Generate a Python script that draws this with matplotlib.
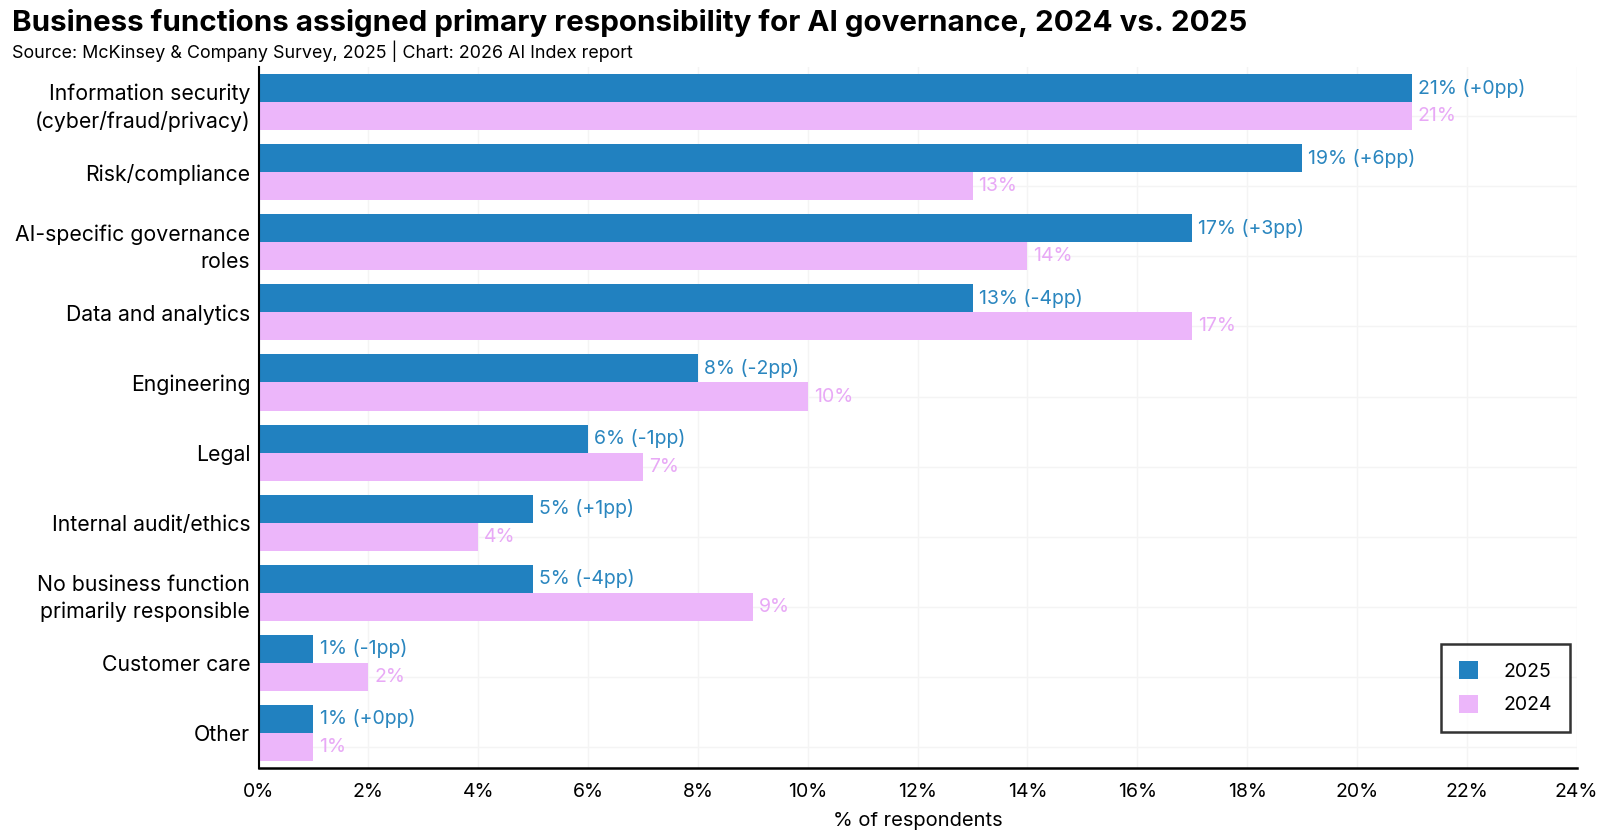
import numpy as np
import matplotlib.pyplot as plt

# data
categories = [
    "Information security\n(cyber/fraud/privacy)",
    "Risk/compliance",
    "AI-specific governance\nroles",
    "Data and analytics",
    "Engineering",
    "Legal",
    "Internal audit/ethics",
    "No business function\nprimarily responsible",
    "Customer care",
    "Other",
]
share_2025 = [21, 19, 17, 13, 8, 6, 5, 5, 1, 1]
share_2024 = [21, 13, 14, 17, 10, 7, 4, 9, 2, 1]

blue = "#2181c0"
pink = "#ecb6fa"
blue_txt = "#2a86bf"
pink_txt = "#e8a9f6"

plt.rcParams["font.family"] = ["Inter", "DejaVu Sans"]

fig = plt.figure(figsize=(16, 8.38), dpi=100)
ax = fig.add_axes([0.1616, 0.0835, 0.8238, 0.8365])

y = np.arange(len(categories))
h = 0.4
ax.barh(y - h / 2, share_2025, height=h, color=blue, label="2025", zorder=2)
ax.barh(y + h / 2, share_2024, height=h, color=pink, label="2024", zorder=2)

# value labels: 2025 share with change vs 2024, then 2024 share
for i, (a, b) in enumerate(zip(share_2025, share_2024)):
    d = a - b
    sign = "+" if d >= 0 else "-"
    ax.text(a + 0.11, i - h / 2, f"{a}% ({sign}{abs(d)}pp)", va="center", ha="left",
            color=blue_txt, fontsize=14, zorder=3)
    ax.text(b + 0.11, i + h / 2, f"{b}%", va="center", ha="left",
            color=pink_txt, fontsize=14, zorder=3)

ax.set_xlim(0, 24)
ax.set_ylim(9.5, -0.5)
ax.set_xticks(np.arange(0, 25, 2))
ax.set_xticklabels([f"{t}%" for t in range(0, 25, 2)], fontsize=14)
ax.set_yticks(y)
ax.set_yticklabels(categories, fontsize=15.3, linespacing=1.45)
ax.set_yticks(y + h / 2, minor=True)
ax.tick_params(axis="y", length=0, pad=6)
ax.tick_params(axis="x", length=0, pad=11)
ax.tick_params(axis="y", which="minor", length=0)
ax.grid(axis="x", color="#f4f4f4", linewidth=1, zorder=0)
ax.grid(axis="y", which="minor", color="#f4f4f4", linewidth=1, zorder=0)

for side in ["top", "right"]:
    ax.spines[side].set_visible(False)
ax.spines["left"].set_linewidth(1.5)
ax.spines["bottom"].set_linewidth(1.8)

ax.set_xlabel("% of respondents", fontsize=14.5, labelpad=8)

leg = ax.legend(loc="lower right", bbox_to_anchor=(0.9947, 0.0514), fontsize=14,
                frameon=True, fancybox=False, edgecolor="black",
                handlelength=1.0, handleheight=1.0, handletextpad=1.3,
                borderpad=0.9, labelspacing=0.75, borderaxespad=0)
leg.get_frame().set_linewidth(1.8)

fig.text(0.0075, 0.973, "Business functions assigned primary responsibility for AI governance, 2024 vs. 2025",
         fontsize=21.3, fontweight="bold", va="center", ha="left")
fig.text(0.0075, 0.939, "Source: McKinsey & Company Survey, 2025 | Chart: 2026 AI Index report",
         fontsize=12.9, va="center", ha="left")

fig.savefig("out.png", dpi=100)
